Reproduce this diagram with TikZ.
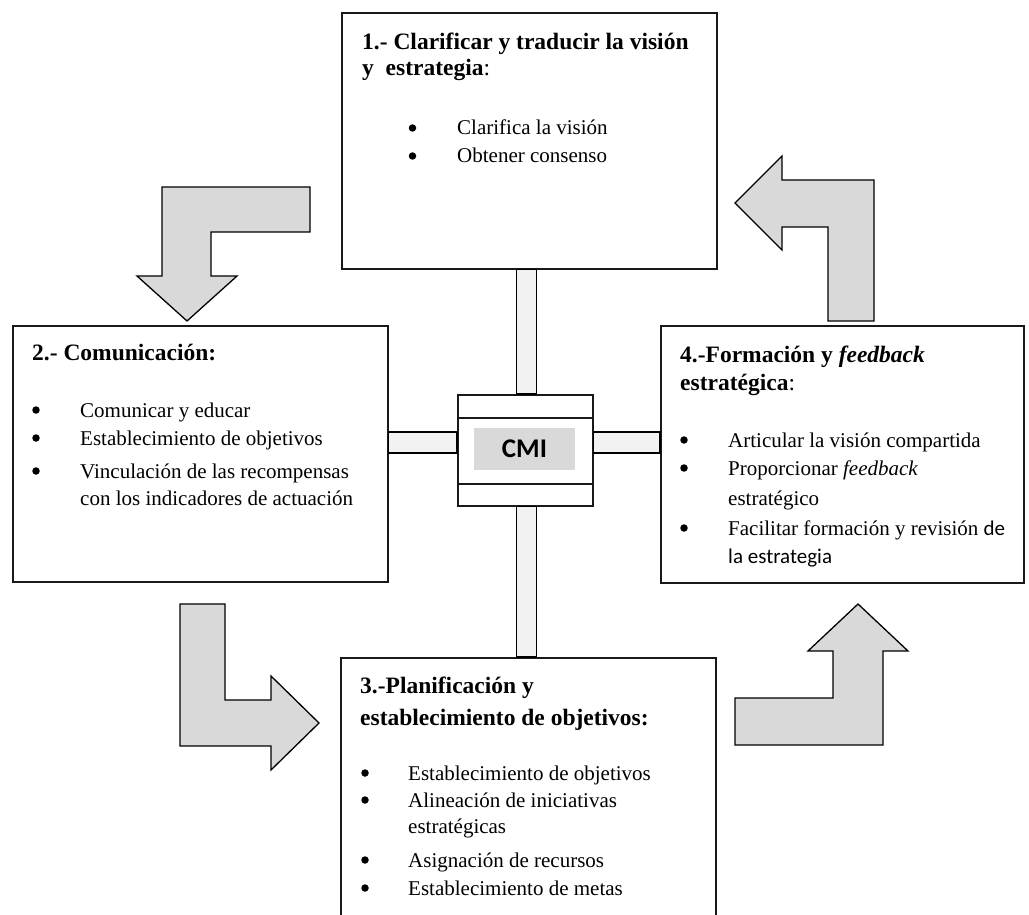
\documentclass[tikz,border=0pt]{standalone}
\usepackage{fontspec}
\setmainfont{Liberation Serif}
\newfontfamily\calibri{Carlito}
\definecolor{arrowgray}{HTML}{D9D9D9}
\definecolor{bargray}{HTML}{F2F2F2}
\begin{document}
\begin{tikzpicture}[x=1pt,y=-1pt,
  panel/.style={draw=black!90, line width=1.7pt, fill=white, inner sep=0pt, anchor=north west},
  bar/.style={draw=black, line width=1.3pt, fill=bargray},
  blockarrow/.style={draw=black, line width=1.3pt, fill=arrowgray, line join=miter},
  ttl/.style={anchor=base west, inner sep=0pt, font=\fontsize{23.5}{28}\selectfont},
  txt/.style={anchor=base west, inner sep=0pt, font=\fontsize{21}{27}\selectfont},
  dot/.style={circle, fill=black, inner sep=0pt, minimum size=7.5pt, yshift=7pt}]

\clip (0,0) rectangle (1029,915);
\fill[white] (0,0) rectangle (1029,915);

% block arrows of the cycle
\draw[blockarrow] (162,187) -- (310,187) -- (310,232) -- (211,232) -- (211,276)
  -- (237,276) -- (187,321) -- (137,276) -- (162,276) -- cycle;
\draw[blockarrow] (735,203) -- (782,156) -- (782,180) -- (874,180) -- (874,321)
  -- (828,321) -- (828,227) -- (782,227) -- (782,250) -- cycle;
\draw[blockarrow] (180,604) -- (225,604) -- (225,700) -- (271,700) -- (271,676)
  -- (319,723) -- (271,770) -- (271,746) -- (180,746) -- cycle;
\draw[blockarrow] (858,604) -- (908,651) -- (883,651) -- (883,745) -- (735,745)
  -- (735,698) -- (833,698) -- (833,651) -- (808,651) -- cycle;

% panels
\node[panel, minimum width=375pt, minimum height=256pt] (b1) at (341,12) {};
\node[panel, minimum width=375pt, minimum height=256pt] (b2) at (12,325) {};
\node[panel, minimum width=363pt, minimum height=257pt] (b4) at (660,325) {};
\node[panel, minimum width=375pt, minimum height=290pt] (b3) at (340,657) {};
\node[panel, minimum width=135pt, minimum height=111pt] (cmi) at (457,394) {};

% links between the central block and the panels
\draw[bar] ([xshift=-9pt]cmi.north) rectangle ([xshift=11pt]cmi.north |- b1.south);
\draw[bar] ([xshift=-9pt]cmi.south) rectangle ([xshift=11pt]cmi.south |- b3.north);
\draw[bar] ([yshift=18.5pt]cmi.west) rectangle ([yshift=-2.5pt]cmi.west -| b2.east);
\draw[bar] ([yshift=18.5pt]cmi.east) rectangle ([yshift=-2.5pt]cmi.east -| b4.west);

% central block
\draw[line width=1.7pt, draw=black!90] ([yshift=-24pt]cmi.north west) -- ([yshift=-24pt]cmi.north east);
\draw[line width=1.7pt, draw=black!90] ([yshift=23pt]cmi.south west) -- ([yshift=23pt]cmi.south east);
\node[fill=arrowgray, minimum width=101pt, minimum height=42pt, inner sep=0pt,
  font=\calibri\bfseries\fontsize{27}{27}\selectfont] (lbl) at (524.5,449) {CMI};

% panel 1
\node[ttl] (t1a) at (362,50) {\bfseries 1.- Clarificar y traducir la visión};
\node[ttl] (t1b) at (362,76) {\bfseries y\ \ estrategia\mdseries :};
\node[dot] (d1a) at (412.5,135) {};
\node[txt] (l1a) at (457,135) {Clarifica la visión};
\node[dot] (d1b) at (412.5,163) {};
\node[txt] (l1b) at (457,163) {Obtener consenso};

% panel 2
\node[ttl] (t2a) at (32,360) {\bfseries 2.- Comunicación:};
\node[dot] (d2a) at (36,417) {};
\node[txt] (l2a) at (80,417) {Comunicar y educar};
\node[dot] (d2b) at (36,445) {};
\node[txt] (l2b) at (80,445) {Establecimiento de objetivos};
\node[dot] (d2c) at (36,478) {};
\node[txt] (l2c) at (80,478) {Vinculación de las recompensas};
\node[txt] (l2d) at (80,505) {con los indicadores de actuación};

% panel 4
\node[ttl] (t4a) at (680,362) {\bfseries 4.-Formación y \textit{feedback}};
\node[ttl] (t4b) at (680,390) {\bfseries estratégica\mdseries :};
\node[dot] (d4a) at (684,447) {};
\node[txt] (l4a) at (728,447) {Articular la visión compartida};
\node[dot] (d4b) at (684,475) {};
\node[txt] (l4b) at (728,475) {Proporcionar \textit{feedback}};
\node[txt] (l4c) at (728,505) {estratégico};
\node[dot] (d4c) at (684,535) {};
\node[txt] (l4d) at (728,535) {Facilitar formación y revisión {\calibri de}};
\node[txt] (l4e) at (728,563) {\calibri la estrategia};

% panel 3
\node[ttl] (t3a) at (360,693) {\bfseries 3.-Planificación y};
\node[ttl] (t3b) at (360,725) {\bfseries establecimiento de objetivos:};
\node[dot] (d3a) at (365,780) {};
\node[txt] (l3a) at (408,780) {Establecimiento de objetivos};
\node[dot] (d3b) at (365,807) {};
\node[txt] (l3b) at (408,807) {Alineación de iniciativas};
\node[txt] (l3c) at (408,833) {estratégicas};
\node[dot] (d3c) at (365,867) {};
\node[txt] (l3d) at (408,867) {Asignación de recursos};
\node[dot] (d3d) at (365,895) {};
\node[txt] (l3e) at (408,895) {Establecimiento de metas};
\end{tikzpicture}
\end{document}
